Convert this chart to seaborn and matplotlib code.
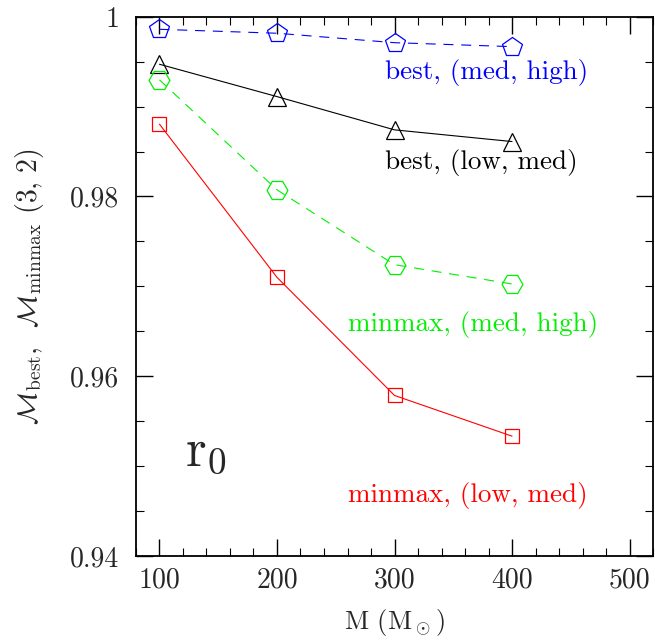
import numpy as np
import pandas as pd
import matplotlib
matplotlib.use("Agg")
import matplotlib.pyplot as plt
from matplotlib.ticker import MultipleLocator, FuncFormatter
import seaborn as sns

# Total mass of the binary (solar masses)
mass = [100, 200, 300, 400]

# Match values for each bank / frequency-band combination
best_med_high = [0.9986, 0.99816, 0.99711, 0.99667]
best_low_med = [0.99471, 0.99111, 0.98741, 0.98611]
minmax_med_high = [0.99297, 0.98074, 0.97241, 0.97026]
minmax_low_med = [0.98804, 0.97100, 0.95786, 0.95333]

series_labels = ["best, (med, high)", "best, (low, med)",
                 "minmax, (med, high)", "minmax, (low, med)"]

sns.set_style("ticks")
plt.rcParams["font.family"] = ["cmr10", "DejaVu Serif"]
plt.rcParams["mathtext.fontset"] = "cm"
plt.rcParams["axes.formatter.use_mathtext"] = True

fig = plt.figure(figsize=(6.55, 6.4), dpi=100)
ax = fig.add_axes([0.2076, 0.1313, 0.7894, 0.8426])

styles = [
    (best_med_high, "#0000ff", "p", 15, (0, (9, 7))),
    (best_low_med, "#000000", "^", 13, "-"),
    (minmax_med_high, "#00f000", "H", 15, (0, (9, 7))),
    (minmax_low_med, "#ff0000", "s", 10, "-"),
]

for vals, col, mk, ms, ls in styles:
    df = pd.DataFrame({"M": mass, "match": vals})
    sns.lineplot(data=df, x="M", y="match", ax=ax, color=col, lw=0.8,
                 linestyle=ls, marker=mk, markersize=ms,
                 markerfacecolor="none", markeredgecolor=col,
                 markeredgewidth=0.9)

text_pos = [(292, 0.99374), (292, 0.98374), (260, 0.96574), (260, 0.94674)]
text_cols = ["#0000ff", "#000000", "#00f000", "#ff0000"]
for lab, (tx, ty), col in zip(series_labels, text_pos, text_cols):
    ax.text(tx, ty, lab, color=col, fontsize=19.5, ha="left", va="center")

ax.text(122, 0.9515, r"$\mathrm{r}_0$", fontsize=38, ha="left", va="center")

ax.set_xlim(80, 520)
ax.set_ylim(0.94, 1.0)
ax.xaxis.set_major_locator(MultipleLocator(100))
ax.xaxis.set_minor_locator(MultipleLocator(20))
ax.yaxis.set_major_locator(MultipleLocator(0.02))
ax.yaxis.set_minor_locator(MultipleLocator(0.005))
ax.yaxis.set_major_formatter(FuncFormatter(lambda v, p: f"{v:g}"))
ax.xaxis.set_major_formatter(FuncFormatter(lambda v, p: f"{v:g}"))

ax.tick_params(which="both", direction="in", top=True, right=True,
               labelsize=20, color="black")
ax.tick_params(which="major", length=12, width=1.0)
ax.tick_params(which="minor", length=6, width=0.8)
ax.tick_params(axis="x", which="major", pad=8)
ax.tick_params(axis="y", which="major", pad=12)
for sp in ax.spines.values():
    sp.set_linewidth(1.3)
    sp.set_color("black")

ax.set_xlabel(r"M (M$_\odot$)", fontsize=19)
ax.set_ylabel(r"$\mathcal{M}_{\rm best}$,  $\mathcal{M}_{\rm minmax}$ (3, 2)",
              fontsize=20)
ax.xaxis.label.set_va("center")
ax.yaxis.label.set_va("center")
ax.xaxis.set_label_coords(0.5, -0.124)
ax.yaxis.set_label_coords(-0.205, 0.5)

fig.savefig("out.png", dpi=100)
